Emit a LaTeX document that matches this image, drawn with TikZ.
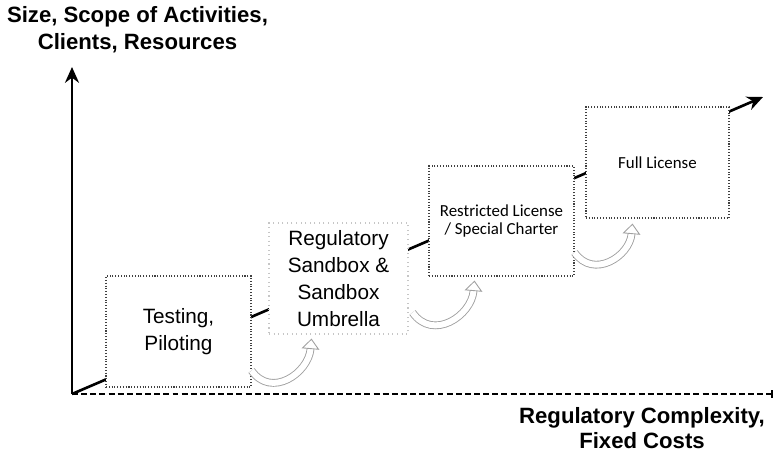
\documentclass[tikz,border=0pt]{standalone}
\usepackage{fontspec}
\setmainfont{Liberation Sans}
\newfontfamily\calibri{Carlito}
\usetikzlibrary{arrows.meta}

\begin{document}
\begin{tikzpicture}
    % settings for this picture
    \tikzset{
      >={Stealth[length=9pt, width=8pt]},
      axislabel/.style={font=\bfseries\fontsize{12.6}{14.5}\selectfont, align=center},
      stage/.style={draw=black!75, densely dotted, line width=0.6pt, fill=white,
        minimum width=2.9cm, minimum height=2.22cm, align=center,
        font=\fontsize{11.8}{15.4}\selectfont},
      smallstage/.style={stage, font=\calibri\fontsize{9.6}{10.4}\selectfont},
      hop/.style={draw=gray!75, line width=0.5pt, double=white, double distance=3.4pt,
        -{Triangle[open, length=6pt, width=10pt]}},
    }
    \useasboundingbox (0,0) rectangle (15.5,9.08);

    % axes
    \coordinate (o) at (1.44,1.2);
    \coordinate (ytop) at (1.44,7.74);
    \coordinate (xend) at (15.46,1.2);
    \draw[->, line width=1.3pt] (o) -- (ytop);
    \draw[dash pattern=on 3.4pt off 1.8pt, line width=1.1pt, -{Bar[width=4pt]}] (o) -- (xend);
    \node[axislabel, font=\bfseries\fontsize{12.6}{15.4}\selectfont] (ylabel) at (2.75,8.48)
      {Size, Scope of Activities,\\Clients, Resources};
    \node[axislabel] (xlabel) at (12.84,0.52) {Regulatory Complexity,\\Fixed Costs};

    % growth line, behind the stages
    \coordinate (grow) at (15.26,7.14);
    \draw[->, line width=1.5pt] (o) -- (grow);

    % stages
    \node[stage] (test) at (3.57,2.45) {Testing,\\Piloting};
    \node[stage, draw=gray!45, dotted, minimum width=2.78cm, inner sep=1pt] (sandbox) at (6.77,3.51)
      {Regulatory\\Sandbox \&\\Sandbox\\Umbrella};
    \node[smallstage, minimum height=2.2cm] (restricted) at (10.03,4.66) {Restricted License\\/ Special Charter};
    \node[smallstage, minimum width=2.86cm] (full) at (13.15,5.83) {Full License};

    % steps between stages
    \draw[hop] ([yshift=0.34cm]test.south east) to[out=-55, in=-95, looseness=1.3]
      ([xshift=0.86cm, yshift=-0.08cm]sandbox.south west);
    \draw[hop] ([xshift=0.08cm, yshift=0.44cm]sandbox.south east) to[out=-55, in=-95, looseness=1.3]
      ([xshift=0.92cm, yshift=-0.08cm]restricted.south west);
    \draw[hop] ([yshift=0.48cm]restricted.south east) to[out=-55, in=-95, looseness=1.3]
      ([xshift=0.94cm, yshift=-0.1cm]full.south west);

\end{tikzpicture}
\end{document}
